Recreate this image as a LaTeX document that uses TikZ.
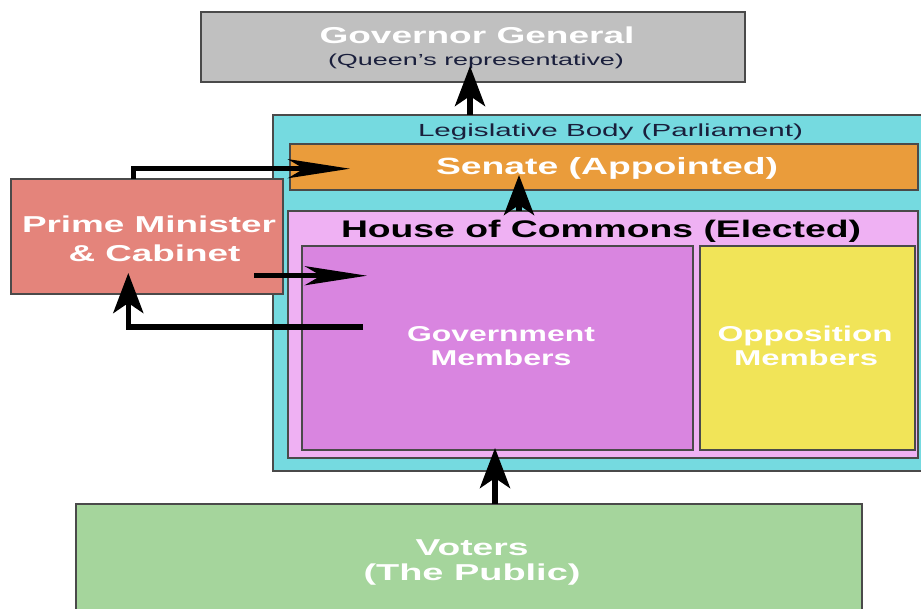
\documentclass[tikz,border=0pt]{standalone}
\usepackage{fontspec}
\usepackage{graphicx}
\setmainfont{Liberation Sans}
\usetikzlibrary{arrows.meta}
\newsavebox{\fitbox}
\newcommand{\fitw}[2]{\sbox{\fitbox}{#2}\pgfmathsetmacro{\fitr}{#1/\the\wd\fitbox}\scalebox{\fitr}[1]{\usebox{\fitbox}}}
\definecolor{ggfill}{HTML}{C0C0C0}
\definecolor{legfill}{HTML}{75DAE0}
\definecolor{senfill}{HTML}{EA9C3B}
\definecolor{hocfill}{HTML}{EFB1F3}
\definecolor{govfill}{HTML}{D985E0}
\definecolor{oppfill}{HTML}{F1E458}
\definecolor{pmfill}{HTML}{E4847B}
\definecolor{votfill}{HTML}{A5D59C}
\definecolor{edge}{HTML}{4A4A4A}
\definecolor{navy}{HTML}{1A1F3C}
\begin{document}
\begin{tikzpicture}[x=1pt,y=-1pt,
  box/.style={draw=edge, line width=1.3pt, anchor=north west, inner sep=0pt, outer sep=0pt},
  wtxt/.style={anchor=base, inner sep=0pt, text=white},
  bigb/.style={font=\fontsize{23}{27}\selectfont\bfseries},
  midb/.style={font=\fontsize{21.5}{25}\selectfont\bfseries},
  arrline/.style={line width=5.5pt, draw=black},
  harr/.style={arrline, -{Stealth[length=62pt,width=19pt,inset=16pt]}},
  varr/.style={arrline, -{Stealth[length=40pt,width=30pt,inset=10pt]}}]
\useasboundingbox (0,0) rectangle (921,609);
\clip (0,0) rectangle (921,609);
% boxes
\node[box, fill=ggfill, minimum width=544pt, minimum height=70pt] (gg) at (201,12) {};
\node[box, fill=legfill, minimum width=660pt, minimum height=356pt] (leg) at (273,115) {};
\node[box, fill=senfill, minimum width=628pt, minimum height=46pt] (sen) at (290,144) {};
\node[box, fill=hocfill, minimum width=630pt, minimum height=247pt] (hoc) at (288,211) {};
\node[box, fill=govfill, minimum width=391pt, minimum height=204pt] (gov) at (302,246) {};
\node[box, fill=oppfill, minimum width=215pt, minimum height=204pt] (opp) at (700,246) {};
\node[box, fill=pmfill, minimum width=272pt, minimum height=115pt] (pm) at (11,179) {};
\node[box, fill=votfill, minimum width=786pt, minimum height=130pt] (vot) at (76,504) {};
% texts
\node[wtxt, bigb] (ggt1) at (477,44) {\fitw{315}{Governor General}};
\node[wtxt, text=navy, font=\fontsize{16}{19}\selectfont] (ggt2) at (476,66) {\fitw{296}{(Queen's representative)}};
\node[wtxt, text=navy, font=\fontsize{17.5}{20}\selectfont] (legt) at (610.5,136.5) {\fitw{385}{Legislative Body (Parliament)}};
\node[wtxt, font=\fontsize{23.5}{27}\selectfont\bfseries] (sent) at (607,175) {\fitw{342}{Senate (Appointed)}};
\node[wtxt, text=black, font=\fontsize{24}{28}\selectfont\bfseries] (hoct) at (601,237.5) {\fitw{520}{House of Commons (Elected)}};
\node[wtxt, bigb] (pmt1) at (149,233) {\fitw{254}{Prime Minister}};
\node[wtxt, bigb] (pmt2) at (154.5,262) {\fitw{172}{\& Cabinet}};
\node[wtxt, midb] (govt1) at (501,342) {\fitw{188}{Government}};
\node[wtxt, midb] (govt2) at (501,366) {\fitw{141}{Members}};
\node[wtxt, midb] (oppt1) at (805,342) {\fitw{175}{Opposition}};
\node[wtxt, midb] (oppt2) at (806,366) {\fitw{144}{Members}};
\node[wtxt, bigb] (vott1) at (472,555) {\fitw{113}{Voters}};
\node[wtxt, bigb] (vott2) at (472,580.5) {\fitw{217}{(The Public)}};
% connectors
\coordinate (ggtip) at (470,66);
\draw[varr] (leg.north -| ggtip) -- (ggtip);
\coordinate (sentip) at (519,175);
\draw[varr] (hoc.north -| sentip) -- (sentip);
\coordinate (govtip) at (495,448);
\draw[varr] (vot.north -| govtip) -- (govtip);
\coordinate (pmtop) at (133.5,0);
\coordinate (senin) at (350,168.7);
\draw[harr] (pm.north -| pmtop) |- (senin);
\coordinate (pmout) at (254,275.7);
\coordinate (govin) at (367,275.7);
\draw[harr] (pmout) -- (govin);
\coordinate (govout) at (363,327);
\coordinate (pmin) at (128.3,273);
\draw[varr] (govout) -| (pmin);
\end{tikzpicture}
\end{document}
